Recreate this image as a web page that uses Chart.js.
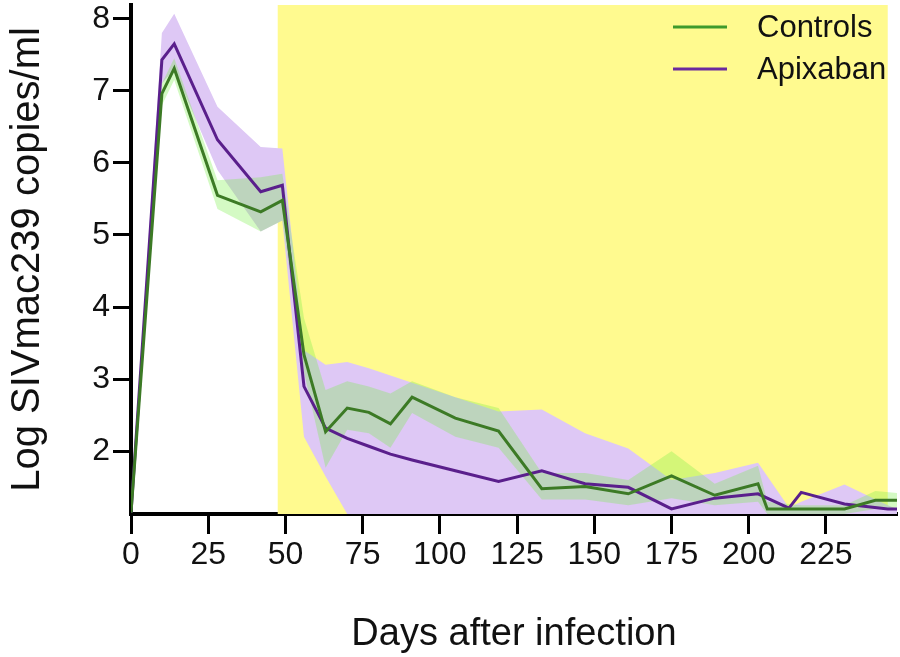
<!DOCTYPE html>
<html>
<head>
<meta charset="utf-8">
<script src="https://cdn.jsdelivr.net/npm/chart.js@4.4.1/dist/chart.umd.min.js"></script>
<style>
  html, body { margin: 0; padding: 0; background: #fff; }
  #wrap { width: 900px; height: 657px; }
</style>
</head>
<body>
<div id="wrap"><canvas id="chart" width="900" height="657"></canvas></div>
<script>
// Controls: mean and band (log copies/ml)
const controlsDays  = [0, 10, 14, 28, 42, 49, 56, 63, 70, 77, 84, 91, 105, 119, 133, 147, 161, 175, 189, 203, 206, 217, 231, 241, 248];
const controlsMean  = [1.15, 6.96, 7.31, 5.55, 5.32, 5.48, 3.34, 2.27, 2.60, 2.54, 2.38, 2.75, 2.46, 2.28, 1.48, 1.51, 1.41, 1.66, 1.39, 1.55, 1.20, 1.20, 1.20, 1.32, 1.32];
const controlsUpper = [1.17, 7.10, 7.45, 5.76, 5.80, 5.85, 3.85, 2.85, 2.97, 2.90, 2.80, 2.97, 2.75, 2.60, 1.70, 1.70, 1.60, 2.00, 1.55, 1.80, 1.30, 1.25, 1.25, 1.45, 1.42];
const controlsLower = [1.13, 6.80, 7.15, 5.36, 5.05, 5.20, 3.10, 1.77, 2.30, 2.25, 2.05, 2.53, 2.20, 2.05, 1.33, 1.33, 1.25, 1.35, 1.25, 1.30, 1.13, 1.13, 1.13, 1.20, 1.22];

// Apixaban: mean and band
const apixDays  = [0, 10, 14, 28, 42, 49, 56, 63, 70, 77, 84, 91, 105, 119, 133, 147, 161, 175, 189, 203, 213, 217, 231, 245, 248];
const apixMean  = [1.15, 7.43, 7.65, 6.32, 5.60, 5.69, 2.90, 2.32, 2.18, 2.07, 1.96, 1.88, 1.73, 1.58, 1.73, 1.55, 1.50, 1.20, 1.35, 1.41, 1.21, 1.43, 1.27, 1.20, 1.20];
const apixUpper = [1.17, 7.80, 8.07, 6.78, 6.22, 6.20, 3.40, 3.20, 3.24, 3.15, 3.05, 2.95, 2.75, 2.55, 2.58, 2.25, 2.04, 1.60, 1.70, 1.84, 1.22, 1.30, 1.54, 1.25, 1.20];
const apixLower = [1.13, 7.10, 7.30, 5.90, 5.05, 5.20, 2.20, 1.65, 1.13, 1.13, 1.13, 1.13, 1.13, 1.13, 1.13, 1.13, 1.13, 1.13, 1.13, 1.13, 1.13, 1.13, 1.13, 1.13, 1.13];

// treatment window (days)
const treatStart = 47.5;
const treatEnd = 245;

const xTicks = [0, 25, 50, 75, 100, 125, 150, 175, 200, 225];
const yTicks = [2, 3, 4, 5, 6, 7, 8];

const pts = (xs, ys) => xs.map((x, i) => ({x: x, y: ys[i]}));
const FONT = '"Liberation Sans", Arial, Helvetica, sans-serif';

const treatmentBox = {
    id: 'treatmentBox',
    beforeDatasetsDraw(chart) {
        const {ctx, chartArea, scales} = chart;
        const x0 = scales.x.getPixelForValue(treatStart);
        const x1 = scales.x.getPixelForValue(treatEnd);
        ctx.save();
        ctx.fillStyle = '#fffa8f';
        ctx.fillRect(x0, chartArea.top, x1 - x0, chartArea.bottom - chartArea.top);
        ctx.restore();
    }
};

// legend drawn inside the plot, top right
const insideLegend = {
    id: 'insideLegend',
    afterDraw(chart) {
        const ctx = chart.ctx;
        const rows = [0, 1];
        ctx.save();
        ctx.font = '31px ' + FONT;
        ctx.textBaseline = 'middle';
        ctx.textAlign = 'left';
        rows.forEach((di, i) => {
            const ds = chart.data.datasets[di];
            const y = 27 + i * 42;
            ctx.strokeStyle = ds.legendColor;
            ctx.lineWidth = 3;
            ctx.beginPath();
            ctx.moveTo(673, y);
            ctx.lineTo(727, y);
            ctx.stroke();
            ctx.fillStyle = '#111';
            ctx.fillText(ds.label, 757, y + 1);
        });
        ctx.restore();
    }
};

const ctx = document.getElementById('chart').getContext('2d');
const chart = new Chart(ctx, {
    type: 'line',
    data: {
        datasets: [
            {
                label: 'Controls',
                data: pts(controlsDays, controlsMean),
                borderColor: '#3c7a25',
                legendColor: '#3f9a2c',
                borderWidth: 3,
                pointRadius: 0,
                fill: false,
                order: 0
            },
            {
                label: 'Apixaban',
                data: pts(apixDays, apixMean),
                borderColor: '#5a1f8c',
                legendColor: '#6a2a9e',
                borderWidth: 3,
                pointRadius: 0,
                fill: false,
                order: 0
            },
            {
                label: 'Controls upper',
                data: pts(controlsDays, controlsUpper),
                borderWidth: 0,
                pointRadius: 0,
                backgroundColor: 'rgba(122, 238, 72, 0.32)',
                fill: '+1',
                order: 1
            },
            {
                label: 'Controls lower',
                data: pts(controlsDays, controlsLower),
                borderWidth: 0,
                pointRadius: 0,
                fill: false,
                order: 1
            },
            {
                label: 'Apixaban upper',
                data: pts(apixDays, apixUpper),
                borderWidth: 0,
                pointRadius: 0,
                backgroundColor: 'rgb(222, 200, 245)',
                fill: '+1',
                order: 2
            },
            {
                label: 'Apixaban lower',
                data: pts(apixDays, apixLower),
                borderWidth: 0,
                pointRadius: 0,
                fill: false,
                order: 2
            }
        ]
    },
    options: {
        responsive: false,
        animation: false,
        devicePixelRatio: 1,
        elements: { line: { tension: 0 } },
        layout: { padding: { top: 5, right: 3, bottom: 0, left: 0 } },
        plugins: {
            legend: { display: false },
            tooltip: { enabled: false }
        },
        scales: {
            x: {
                type: 'linear',
                min: 0,
                max: 248,
                z: 1,
                afterBuildTicks: (s) => { s.ticks = xTicks.map(v => ({value: v})); },
                afterFit: (s) => { s.height = 143; s.paddingLeft = 0; s.paddingRight = 0; },
                border: { display: true, color: '#000', width: 4 },
                grid: { display: true, drawOnChartArea: false, drawTicks: true, tickLength: 20, tickWidth: 3, tickColor: '#000' },
                ticks: { color: '#111', padding: 2, maxRotation: 0, autoSkip: false, font: { family: FONT, size: 32 } },
                title: { display: true, text: 'Days after infection', color: '#111', padding: { top: 0, bottom: 0 }, font: { family: FONT, size: 38 } }
            },
            y: {
                type: 'linear',
                min: 1.13,
                max: 8.19,
                z: 1,
                afterBuildTicks: (s) => { s.ticks = yTicks.map(v => ({value: v})); },
                afterFit: (s) => { s.width = 131; s.paddingTop = 0; s.paddingBottom = 0; },
                border: { display: true, color: '#000', width: 4 },
                grid: { display: true, drawOnChartArea: false, drawTicks: true, tickLength: 18, tickWidth: 3, tickColor: '#000' },
                ticks: { color: '#111', padding: 3, font: { family: FONT, size: 32 } },
                title: { display: true, text: 'Log SIVmac239 copies/ml', color: '#111', padding: { top: 4, bottom: 0 }, font: { family: FONT, size: 40 } }
            }
        }
    },
    plugins: [treatmentBox, insideLegend]
});
</script>
</body>
</html>
